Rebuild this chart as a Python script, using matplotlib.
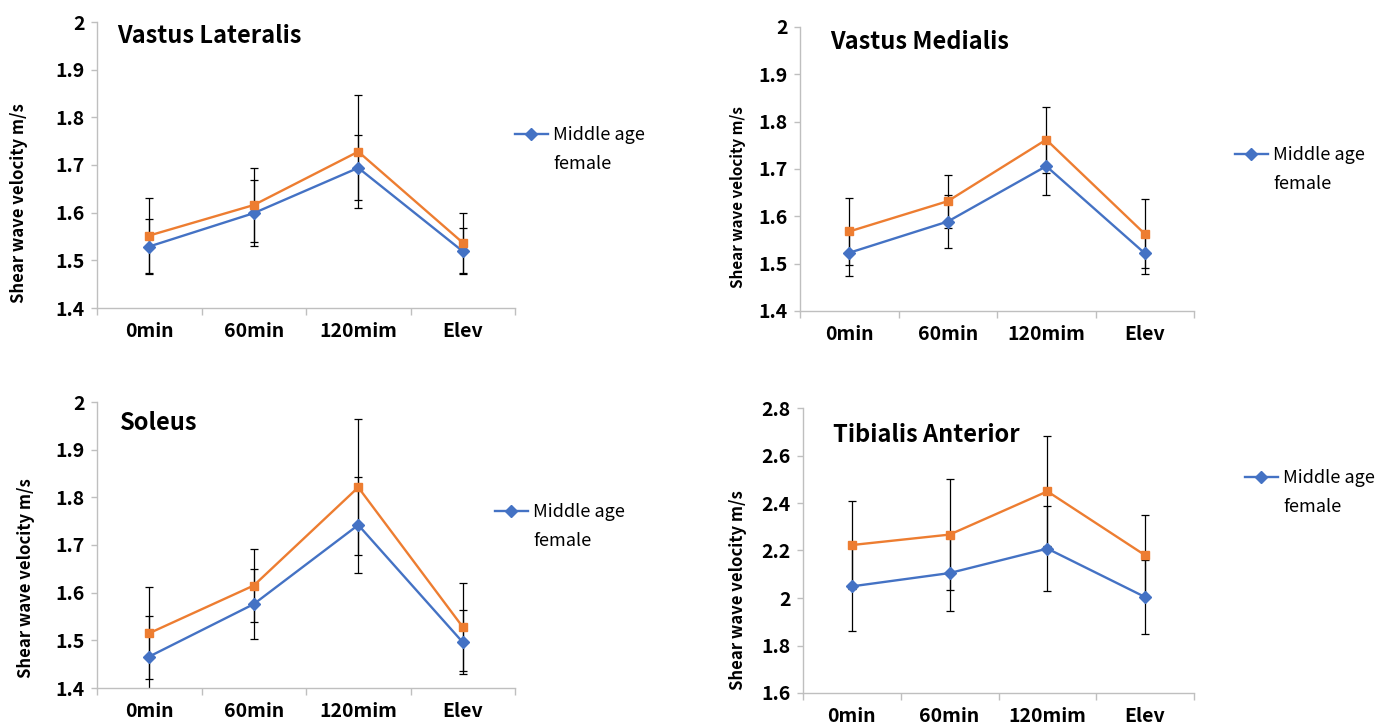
import matplotlib
matplotlib.use("Agg")
import matplotlib.pyplot as plt
import numpy as np

plt.rcParams['font.family'] = ['Noto Sans CJK JP', 'DejaVu Sans']

categories = ["0min", "60min", "120mim", "Elev"]
legend_label = "Middle age"
legend_label_2 = "female"
ylabel = "Shear wave velocity m/s"

# Vastus Lateralis
vl_blue = [1.529, 1.599, 1.694, 1.519]
vl_blue_err = [0.058, 0.069, 0.068, 0.048]
vl_orange = [1.552, 1.616, 1.728, 1.537]
vl_orange_err = [0.078, 0.077, 0.119, 0.063]

# Vastus Medialis
vm_blue = [1.523, 1.589, 1.706, 1.522]
vm_blue_err = [0.048, 0.056, 0.061, 0.043]
vm_orange = [1.568, 1.632, 1.762, 1.563]
vm_orange_err = [0.071, 0.056, 0.070, 0.073]

# Soleus
so_blue = [1.466, 1.576, 1.742, 1.496]
so_blue_err = [0.085, 0.074, 0.101, 0.067]
so_orange = [1.515, 1.615, 1.821, 1.528]
so_orange_err = [0.096, 0.076, 0.143, 0.092]

# Tibialis Anterior
ta_blue = [2.049, 2.105, 2.208, 2.004]
ta_blue_err = [0.186, 0.161, 0.178, 0.154]
ta_orange = [2.223, 2.267, 2.449, 2.180]
ta_orange_err = [0.186, 0.234, 0.232, 0.168]

W, H = 1392, 727
BLUE = "#4472C4"
ORANGE = "#ED7D31"
GRAY = "#BFBFBF"

fig = plt.figure(figsize=(W / 100, H / 100), dpi=100)


def fx(px):
    return px / W


def fy(py):
    return 1 - py / H


panels = [
    # (title, blue, blue_err, orange, orange_err, ylim, yticks, box(l,t,r,b), title_xy, ylabel_xy, legend_xy, ylabel_size)
    ("Vastus Lateralis", vl_blue, vl_blue_err, vl_orange, vl_orange_err,
     (1.4, 2.0), ["1.4", "1.5", "1.6", "1.7", "1.8", "1.9", "2"],
     (97, 22, 515, 308), (117, 36), (19, 203), (515, 135), 12),
    ("Vastus Medialis", vm_blue, vm_blue_err, vm_orange, vm_orange_err,
     (1.4, 2.0), ["1.4", "1.5", "1.6", "1.7", "1.8", "1.9", "2"],
     (800, 27, 1194, 311), (830, 42), (738, 197), (1235, 155), 11),
    ("Soleus", so_blue, so_blue_err, so_orange, so_orange_err,
     (1.4, 2.0), ["1.4", "1.5", "1.6", "1.7", "1.8", "1.9", "2"],
     (97, 402, 515, 688), (120, 423), (26, 578), (495, 512), 12),
    ("Tibialis Anterior", ta_blue, ta_blue_err, ta_orange, ta_orange_err,
     (1.6, 2.8), ["1.6", "1.8", "2", "2.2", "2.4", "2.6", "2.8"],
     (803, 408, 1194, 693), (833, 435), (738, 590), (1245, 478), 12),
]

x = np.arange(len(categories))

for (title, b, be, o, oe, ylim, ytl, box, txy, lxy, legxy, lsize) in panels:
    l, t, r, btm = box
    ax = fig.add_axes([fx(l), fy(btm), fx(r - l), fy(t) - fy(btm)])

    ax.errorbar(x, b, yerr=be, fmt='none', ecolor='black', elinewidth=0.9,
                capsize=3, capthick=0.9, zorder=2)
    ax.errorbar(x, o, yerr=oe, fmt='none', ecolor='black', elinewidth=0.9,
                capsize=3, capthick=0.9, zorder=2)
    ax.plot(x, b, color=BLUE, lw=1.7, marker='D', ms=6, zorder=3,
            label=legend_label)
    ax.plot(x, o, color=ORANGE, lw=1.7, marker='s', ms=5.5, zorder=4)

    ax.set_xlim(-0.5, len(categories) - 0.5)
    ax.set_ylim(*ylim)
    ax.set_yticks(np.linspace(ylim[0], ylim[1], len(ytl)))
    ax.set_yticklabels(ytl)
    ax.set_xticks(x)
    ax.set_xticklabels(categories)
    ax.set_xticks(np.arange(-0.5, len(categories)), minor=True)

    for s in ["top", "right"]:
        ax.spines[s].set_visible(False)
    for s in ["left", "bottom"]:
        ax.spines[s].set_color(GRAY)
        ax.spines[s].set_linewidth(1.0)

    ax.tick_params(axis='x', which='major', length=0, pad=10, labelsize=14)
    ax.tick_params(axis='x', which='minor', length=5, color=GRAY, width=1)
    ax.tick_params(axis='y', which='major', length=4, color=GRAY, width=1,
                   pad=5, labelsize=14)
    for lab in ax.get_xticklabels() + ax.get_yticklabels():
        lab.set_fontweight('bold')

    fig.text(fx(txy[0]), fy(txy[1]), title, fontsize=17, fontweight='bold',
             ha='left', va='center')
    fig.text(fx(lxy[0]), fy(lxy[1]), ylabel, rotation=90, fontsize=lsize,
             fontweight='bold', ha='center', va='center')

    leg = ax.legend(loc='center left', bbox_to_anchor=(fx(legxy[0]), fy(legxy[1])),
                    bbox_transform=fig.transFigure, frameon=False, fontsize=13,
                    handlelength=1.8, handletextpad=0.3, borderpad=0,
                    borderaxespad=0)
    fig.canvas.draw()
    tb = leg.get_texts()[0].get_window_extent()
    fig.text(tb.x0 / W, (tb.y0 + tb.y1) / 2 / H - 29 / H, legend_label_2,
             fontsize=13, ha='left', va='center')

fig.savefig("out.png", dpi=100)
